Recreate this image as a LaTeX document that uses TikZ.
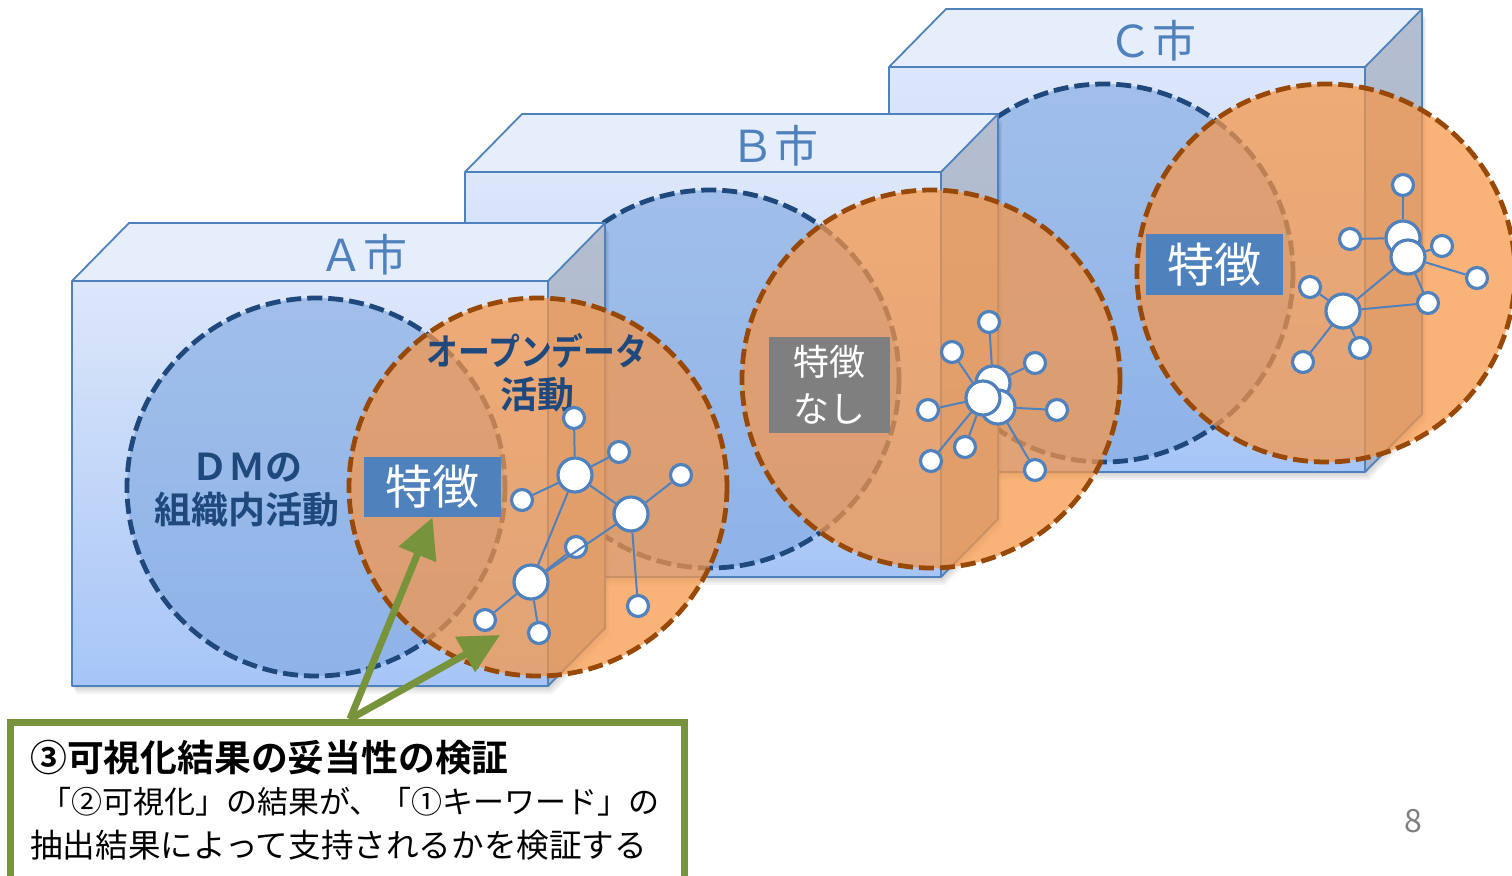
\documentclass[tikz,border=0pt]{standalone}
\usepackage{fontspec}
\setmainfont{Noto Sans CJK JP}[BoldFont={Noto Sans CJK JP Bold}]
\usepackage{tikz}
\usetikzlibrary{arrows.meta}

\definecolor{boxline}{RGB}{79,129,189}
\definecolor{facetop}{RGB}{221,231,250}
\definecolor{facebot}{RGB}{166,197,247}
\definecolor{roofcol}{RGB}{230,238,252}
\definecolor{sidetop}{RGB}{180,190,208}
\definecolor{sidebot}{RGB}{166,179,201}
\definecolor{dmblue}{RGB}{31,73,125}
\definecolor{dmfill}{RGB}{130,170,225}
\definecolor{odbrown}{RGB}{152,72,7}
\definecolor{odfill}{RGB}{247,150,70}
\definecolor{notegreen}{RGB}{119,147,60}
\definecolor{taggray}{RGB}{127,127,127}
\definecolor{pagegray}{RGB}{128,128,128}

% a city as a box: name, front top-left corner (x,y), label centre x, label
\newcommand{\cityblock}[5]{%
  \foreach \k in {1,...,4}
    \fill[black, opacity=0.045] ({#2+\k},{#3+\k*2}) rectangle ++(476,405)
      ({#2+476+\k},{#3+\k*2}) -- ++(57,-58) -- ++(0,405) -- ++(-57,58) -- cycle;
  \shade[top color=facetop, bottom color=facebot] (#2,#3) rectangle ++(476,405);
  \fill[roofcol] (#2,#3) -- ++(57,-58) -- ++(476,0) -- ++(-57,58) -- cycle;
  \shade[top color=sidetop, bottom color=sidebot] ({#2+476},#3) -- ++(57,-58) -- ++(0,405) -- ++(-57,58) -- cycle;
  \draw[boxline, line width=0.9pt, line join=round] (#2,#3) rectangle ++(476,405)
    (#2,#3) -- ++(57,-58) -- ++(476,0) -- ++(-57,58)
    ++(57,-58) -- ++(0,405) -- ++(-57,58);
  \node[citylabel] (#1) at (#4,{#3-26}) {#5};
}

\begin{document}
\begin{tikzpicture}[x=0.5pt, y=-0.5pt,
    citylabel/.style={text=boxline, inner sep=0pt, font=\fontsize{22}{26}\selectfont},
    dmzone/.style={draw=dmblue, fill=dmfill, fill opacity=0.65, line width=2.4pt, dash pattern=on 7.5pt off 3pt},
    odzone/.style={draw=odbrown, fill=odfill, fill opacity=0.73, line width=2.4pt, dash pattern=on 7.5pt off 3pt},
    zonetext/.style={text=dmblue, align=center, inner sep=0pt, font=\bfseries\fontsize{18.5}{21.5}\selectfont},
    tag/.style={fill=boxline, text=white, inner sep=0pt, font=\fontsize{23.5}{28}\selectfont},
    kw/.style={circle, draw=boxline, fill=white, line width=1.6pt, minimum size=10.5pt, inner sep=0pt},
    kwbig/.style={kw, minimum size=17pt},
    link/.style={boxline, line width=1pt},
    evidence/.style={notegreen, line width=3.5pt, -{Triangle[length=20pt,width=19.5pt]}},
    notebox/.style={draw=notegreen, fill=white, line width=3.5pt},
    notetext/.style={anchor=base west, inner sep=0pt}]
  \useasboundingbox (0,0) rectangle (1512,875);
  \clip (0,0) rectangle (1512,875);
  \fill[white] (0,0) rectangle (1512,875);

  % city C
  \cityblock{cityC}{889}{67}{1152}{Ｃ市}
  \draw[dmzone] (1104,273) circle[radius=189];
  \draw[odzone] (1326,273) circle[radius=189];
  \node[tag, minimum width=68.5pt, minimum height=30.5pt] (featC) at (1214.5,264.5) {特徴};
  \node[kw] (c1) at (1403,185) {};
  \node[kwbig] (c2) at (1403,238) {};
  \node[kwbig] (c3) at (1408,257) {};
  \node[kw] (c4) at (1350,239) {};
  \node[kw] (c5) at (1442,246) {};
  \node[kw] (c6) at (1477,278) {};
  \node[kw] (c7) at (1428,303) {};
  \node[kwbig] (c8) at (1343,311) {};
  \node[kw] (c9) at (1310,287) {};
  \node[kw] (c10) at (1360,348) {};
  \node[kw] (c11) at (1303,362) {};
  \foreach \u/\v in {c1/c2, c4/c2, c3/c5, c3/c6, c3/c7, c3/c8, c8/c7, c8/c9, c8/c10, c8/c11}
    \draw[link] (\u) -- (\v);

  % city B
  \cityblock{cityB}{465}{172}{774}{Ｂ市}
  \draw[dmzone] (710,379) circle[radius=189];
  \draw[odzone] (931,379) circle[radius=189];
  \node[tag, fill=taggray, align=center, font=\fontsize{18}{23.5}\selectfont,
    minimum width=60.5pt, minimum height=48pt] (featB) at (829.5,385) {特徴\\なし};
  \node[kw] (b1) at (989,322) {};
  \node[kw] (b2) at (952,352) {};
  \node[kw] (b3) at (1035,363) {};
  \node[kwbig] (b4) at (993,383) {};
  \node[kwbig] (b5) at (998,407) {};
  \node[kwbig] (b6) at (983,398) {};
  \node[kw] (b7) at (928,410) {};
  \node[kw] (b8) at (1057,410) {};
  \node[kw] (b9) at (965,447) {};
  \node[kw] (b10) at (931,461) {};
  \node[kw] (b11) at (1035,470) {};
  \foreach \u/\v in {b1/b4, b2/b6, b3/b4, b7/b6, b8/b5, b9/b6, b10/b6, b11/b5}
    \draw[link] (\u) -- (\v);

  % city A
  \cityblock{cityA}{72}{281}{363}{Ａ市}
  \draw[dmzone] (316,487) circle[radius=189];
  \draw[odzone] (538,487) circle[radius=189];
  \node[zonetext] (dmA) at (247,490) {ＤＭの\\組織内活動};
  \node[zonetext] (odA) at (537,373) {\scalebox{0.86}[1]{オープンデータ}\\活動};
  \node[tag, minimum width=68.5pt, minimum height=30pt] (featA) at (432.5,487) {特徴};
  \node[kw] (a1) at (574,418) {};
  \node[kwbig] (a2) at (575,475) {};
  \node[kw] (a3) at (619,452) {};
  \node[kw] (a4) at (522,500) {};
  \node[kwbig] (a5) at (631,514) {};
  \node[kw] (a6) at (681,475) {};
  \node[kw] (a7) at (576,547) {};
  \node[kwbig] (a8) at (531,582) {};
  \node[kw] (a9) at (485,620) {};
  \node[kw] (a10) at (539,633) {};
  \node[kw] (a11) at (638,606) {};
  \foreach \u/\v in {a1/a2, a2/a3, a2/a4, a2/a5, a5/a6, a2/a8, a8/a7, a8/a5, a8/a9, a8/a10, a5/a11}
    \draw[link] (\u) -- (\v);

  % verification note
  \draw[notebox] (10,722) rectangle (684,900);
  \node[notetext, font=\bfseries\fontsize{18.4}{22}\selectfont] (note1) at (30,771) {③可視化結果の妥当性の検証};
  \node[notetext, font=\fontsize{15.5}{20}\selectfont] (note2) at (40,813) {「②可視化」の結果が、「①キーワード」の};
  \node[notetext, font=\fontsize{16.3}{20}\selectfont] (note3) at (30,857) {抽出結果によって支持されるかを検証する};
  \coordinate (src) at (350,719);
  \coordinate (tipA) at (500,635);
  \draw[evidence] (src) -- (featA.south);
  \draw[evidence] (src) -- (tipA);

  \node[text=pagegray, font=\fontsize{16}{20}\selectfont] (page) at (1413,821) {8};
\end{tikzpicture}
\end{document}
